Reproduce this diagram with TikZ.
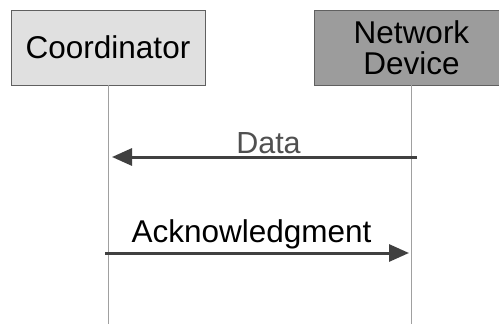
\documentclass[tikz,border=0pt]{standalone}
\usepackage{fontspec}
\setmainfont{Liberation Sans}
\usetikzlibrary{arrows.meta}
\definecolor{lightbox}{HTML}{E0E0E0}
\definecolor{darkbox}{HTML}{9C9C9C}
\definecolor{boxline}{HTML}{606060}
\definecolor{lifeline}{HTML}{A0A0A0}
\definecolor{msgline}{HTML}{404040}
\definecolor{datatext}{HTML}{505050}
\tikzset{
  actor/.style={draw=boxline, line width=0.8pt, minimum width=194pt, minimum height=75pt,
    inner sep=0pt, align=center, font=\fontsize{31.5}{31.5}\selectfont},
  life/.style={draw=lifeline, line width=1pt},
  msg/.style={draw=msgline, line width=3pt, -{Triangle[length=20pt,width=17pt]}},
  msglabel/.style={anchor=base, inner sep=0pt, font=\fontsize{31.5}{31.5}\selectfont},
}
\begin{document}
\begin{tikzpicture}[x=1pt, y=-1pt]
  \clip (0,0) rectangle (499,324);
  \fill[white] (0,0) rectangle (499,324);
  % participants
  \node[actor, fill=lightbox] (coord) at (108,47.5) {Coordinator};
  \node[actor, fill=darkbox, minimum width=195pt] (dev) at (411.5,47.5) {Network\\Device};
  % lifelines
  \coordinate (coordEnd) at (108,330);
  \coordinate (devEnd) at (411.5,330);
  \draw[life] (coord.south) -- (coordEnd);
  \draw[life] (dev.south) -- (devEnd);
  % messages
  \coordinate (dataFrom) at (417,157);
  \coordinate (dataTo) at (112,157);
  \coordinate (ackFrom) at (105,253);
  \coordinate (ackTo) at (409,253);
  \draw[msg] (dataFrom) -- (dataTo);
  \draw[msg] (ackFrom) -- (ackTo);
  \node[msglabel, text=datatext, font=\fontsize{30.5}{30.5}\selectfont] (dataLabel) at (268.5,153) {Data};
  \node[msglabel] (ackLabel) at (251.5,242) {Acknowledgment};
\end{tikzpicture}
\end{document}
